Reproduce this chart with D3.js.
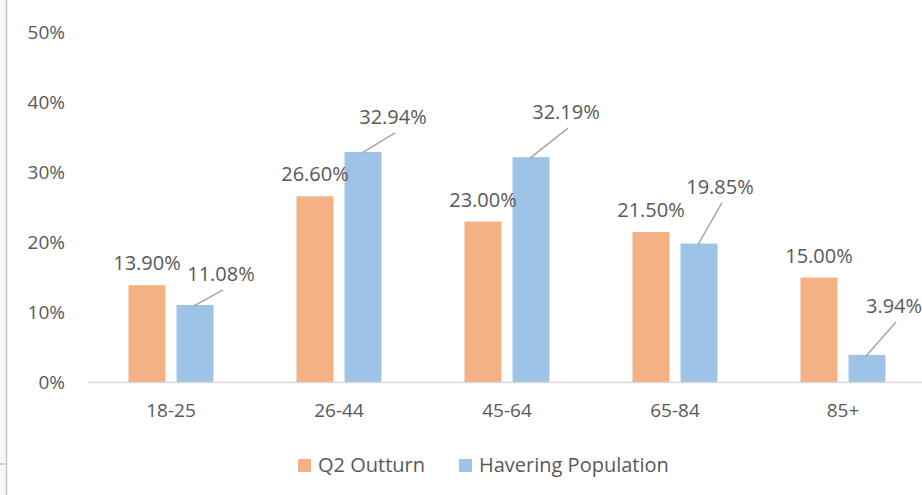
<!DOCTYPE html>
<html>
<head>
<meta charset="utf-8">
<script src="https://cdn.jsdelivr.net/npm/d3@7"></script>
<style>
  body { margin: 0; background: #fff; }
  svg { display: block; font-family: "Open Sans", sans-serif; }
</style>
</head>
<body>
<svg id="chart" width="922" height="495"></svg>
<script>
// chart values
var categories = ["18-25", "26-44", "45-64", "65-84", "85+"];
var seriesNames = ["Q2 Outturn", "Havering Population"];
var outturn = [0.139, 0.266, 0.23, 0.215, 0.15];
var havering = [0.1108, 0.3294, 0.3219, 0.1985, 0.0394];
var yTicks = [0, 0.1, 0.2, 0.3, 0.4, 0.5];

// label placement for the blue series (dx, dy from top of bar), like the excel manual ones
var blueLabelOffsets = [[26, -31], [30, -35], [35, -45], [21, -57], [27, -49]];

var colors = ["#F4B183", "#9DC3E6"];
var textColor = "#595959";

var svg = d3.select("#chart");

// frame bits on the left edge
svg.append("rect").attr("x", 0).attr("y", 0).attr("width", 6).attr("height", 495).style("fill", "#f7f7f7");
svg.append("line").attr("x1", 6.5).attr("x2", 6.5).attr("y1", 0).attr("y2", 495)
    .style("stroke", "#c6c6c6").style("stroke-width", 1.5);
svg.append("line").attr("x1", 0).attr("x2", 6).attr("y1", 464).attr("y2", 464)
    .style("stroke", "#d4d4d4").style("stroke-width", 2);

var x0 = d3.scaleBand().domain(categories).range([87, 927])
    .paddingInner(0.494).paddingOuter(0.247);
var x1 = d3.scaleBand().domain(seriesNames).range([0, x0.bandwidth()]).paddingInner(0.23);
var y = d3.scaleLinear().domain([0, 0.5]).range([382.5, 32.5]);

var pct0 = d3.format(".0%");
var pct2 = d3.format(".2%");

// y tick labels (no gridlines)
svg.append("g").selectAll("text")
    .data(yTicks)
    .enter().append("text")
    .attr("x", 65)
    .attr("y", function(d) { return y(d); })
    .attr("dy", "0.35em")
    .attr("text-anchor", "end")
    .style("font-size", "19px")
    .style("fill", textColor)
    .text(function(d) { return pct0(d); });

// bars
var rows = categories.map(function(c, i) {
    return { cat: c, i: i, values: [outturn[i], havering[i]] };
});

var groups = svg.append("g").selectAll("g")
    .data(rows)
    .enter().append("g")
    .attr("transform", function(d) { return "translate(" + x0(d.cat) + ",0)"; });

groups.selectAll("rect")
    .data(function(d) { return d.values.map(function(v, k) { return { s: seriesNames[k], v: v, k: k }; }); })
    .enter().append("rect")
    .attr("x", function(d) { return x1(d.s); })
    .attr("y", function(d) { return y(d.v); })
    .attr("width", x1.bandwidth())
    .attr("height", function(d) { return y(0) - y(d.v); })
    .style("fill", function(d) { return colors[d.k]; });

// x axis line
svg.append("line")
    .attr("x1", 88).attr("x2", 922)
    .attr("y1", y(0)).attr("y2", y(0))
    .style("stroke", "#d9d9d9").style("stroke-width", 1.5);

// category labels
svg.append("g").selectAll("text")
    .data(categories)
    .enter().append("text")
    .attr("x", function(d) { return x0(d) + x0.bandwidth() / 2; })
    .attr("y", 410)
    .attr("dy", "0.35em")
    .attr("text-anchor", "middle")
    .style("font-size", "19px")
    .style("fill", textColor)
    .text(function(d) { return d; });

// orange labels straight above
groups.append("text")
    .attr("x", function(d) { return x1(seriesNames[0]) + x1.bandwidth() / 2; })
    .attr("y", function(d) { return y(d.values[0]) - 22; })
    .attr("dy", "0.35em")
    .attr("text-anchor", "middle")
    .style("font-size", "20px")
    .style("fill", textColor)
    .text(function(d) { return pct2(d.values[0]); });

// blue labels with leader lines
groups.each(function(d) {
    var g = d3.select(this);
    var off = blueLabelOffsets[d.i];
    var bx = x1(seriesNames[1]) + x1.bandwidth() / 2;
    var by = y(d.values[1]);
    var lx = bx + off[0], ly = by + off[1];
    g.append("line")
        .attr("x1", bx - 1).attr("y1", by + 1)
        .attr("x2", lx + 2).attr("y2", ly + 16)
        .style("stroke", "#a6a6a6").style("stroke-width", 1.5);
    g.append("text")
        .attr("x", lx)
        .attr("y", ly)
        .attr("dy", "0.35em")
        .attr("text-anchor", "middle")
        .style("font-size", "20px")
        .style("fill", textColor)
        .text(pct2(d.values[1]));
});

// legend
var legend = svg.append("g").attr("transform", "translate(298,465)");
var legX = [0, 161];
seriesNames.forEach(function(name, k) {
    var item = legend.append("g").attr("transform", "translate(" + legX[k] + ",0)");
    item.append("rect").attr("x", 0).attr("y", -6).attr("width", 13).attr("height", 13)
        .style("fill", colors[k]);
    item.append("text").attr("x", 20).attr("y", 0).attr("dy", "0.35em")
        .style("font-size", "20px").style("fill", textColor)
        .text(name);
});
</script>
</body>
</html>
